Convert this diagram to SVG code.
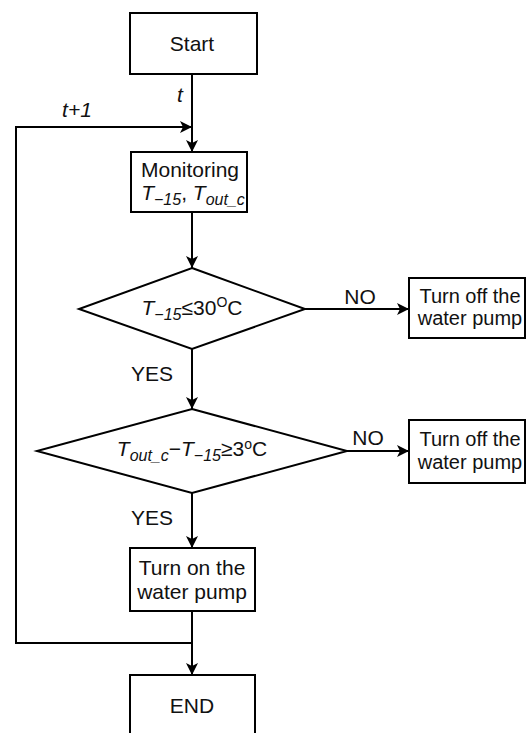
<svg xmlns="http://www.w3.org/2000/svg" width="527" height="733" viewBox="0 0 527 733">
<style>
.box{fill:#fff;stroke:#000;stroke-width:2}
.ln{fill:none;stroke:#000;stroke-width:2}
text{font-family:"Liberation Sans",Arial,sans-serif;font-size:21px;fill:#111}
.c{text-anchor:middle}
.i{font-style:italic}
.s{font-size:20px}
</style>
<defs>
<marker id="ah" markerUnits="userSpaceOnUse" viewBox="0 0 12 12" markerWidth="12" markerHeight="12" refX="12" refY="6" orient="auto">
<path d="M0,0 L12,6 L0,12 L3,6 z" fill="#000"/>
</marker>
</defs>
<g id="connectors">
<path class="ln" d="M192,74 V152" marker-end="url(#ah)"/>
<path class="ln" d="M192,643 H16 V127 H192" marker-end="url(#ah)"/>
<path class="ln" d="M192,212 V268" marker-end="url(#ah)"/>
<path class="ln" d="M305,309 H409" marker-end="url(#ah)"/>
<path class="ln" d="M192,349 V409" marker-end="url(#ah)"/>
<path class="ln" d="M347,451 H409" marker-end="url(#ah)"/>
<path class="ln" d="M192,493 V548" marker-end="url(#ah)"/>
<path class="ln" d="M192,611 V675" marker-end="url(#ah)"/>
<text class="c i" x="180" y="102">t</text>
<text class="c i" x="77" y="117">t+1</text>
<text class="c" x="360" y="304">NO</text>
<text class="c" x="368" y="445">NO</text>
<text class="c" x="152" y="381">YES</text>
<text class="c" x="152" y="525">YES</text>
</g>
<g id="start">
<rect class="box" x="130" y="13" width="127" height="61"/>
<text class="c" x="192" y="51">Start</text>
</g>
<g id="monitoring">
<rect class="box" x="131" y="152" width="116" height="60"/>
<text class="c" x="190" y="177">Monitoring</text>
<text class="c" x="193" y="200"><tspan class="i">T</tspan><tspan class="i" font-size="16" dy="5">−15</tspan><tspan dy="-5">, </tspan><tspan class="i">T</tspan><tspan class="i" font-size="16" dy="5">out_c</tspan></text>
</g>
<g id="decision1">
<polygon class="box" points="192,268 305,309 192,349 79,309"/>
<text class="c" x="192" y="315"><tspan class="i">T</tspan><tspan class="i" font-size="16" dy="5">−15</tspan><tspan dy="-5">≤30</tspan><tspan font-size="14" dy="-8">O</tspan><tspan dy="8">C</tspan></text>
</g>
<g id="pumpoff1">
<rect class="box" x="409" y="278" width="116" height="60"/>
<text class="c s" x="470" y="303">Turn off the</text>
<text class="c s" x="470" y="325">water pump</text>
</g>
<g id="decision2">
<polygon class="box" points="192,409 347,451 192,493 37,451"/>
<text class="c" x="192" y="456"><tspan class="i">T</tspan><tspan class="i" font-size="16" dy="5">out_c</tspan><tspan dy="-5">−</tspan><tspan class="i">T</tspan><tspan class="i" font-size="16" dy="5">−15</tspan><tspan dy="-5">≥3</tspan><tspan font-size="14" dy="-7">o</tspan><tspan dy="7">C</tspan></text>
</g>
<g id="pumpoff2">
<rect class="box" x="409" y="420" width="116" height="63"/>
<text class="c s" x="470" y="446">Turn off the</text>
<text class="c s" x="470" y="469">water pump</text>
</g>
<g id="pumpon">
<rect class="box" x="130" y="548" width="125" height="63"/>
<text class="c" x="192" y="575">Turn on the</text>
<text class="c" x="192" y="599">water pump</text>
</g>
<g id="end">
<rect class="box" x="130" y="675" width="125" height="70"/>
<text class="c" x="192" y="713">END</text>
</g>
</svg>
